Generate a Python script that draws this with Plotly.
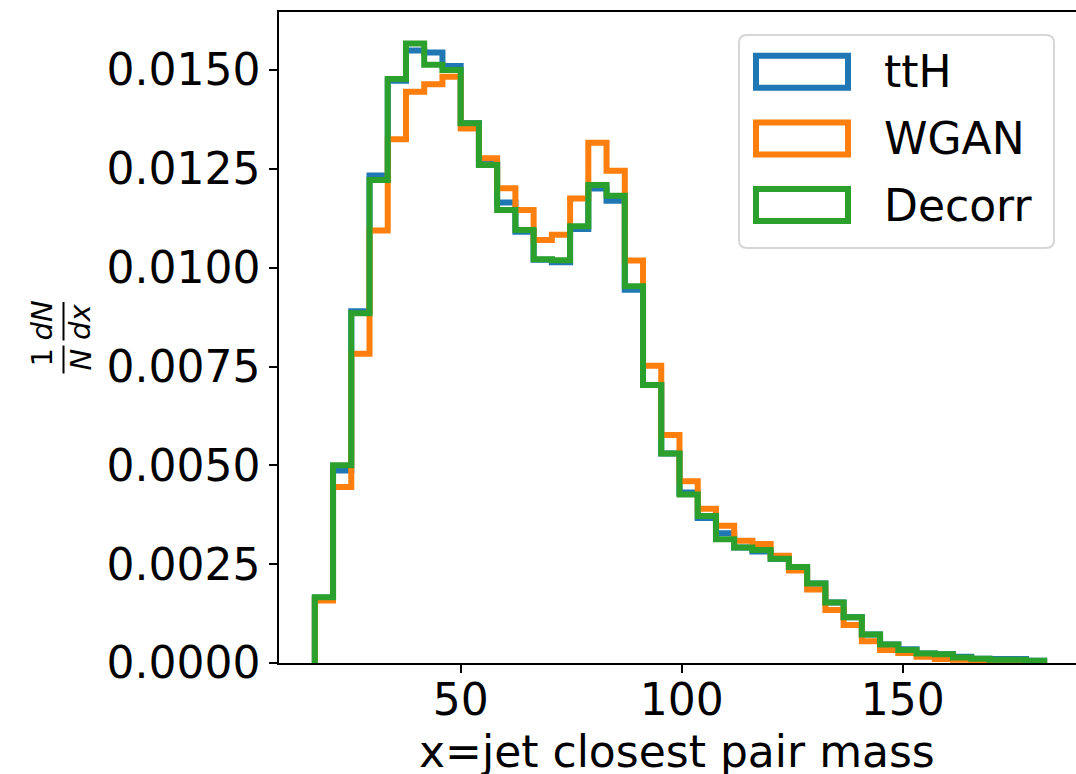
import numpy as np
import plotly.graph_objects as go

# Binning of the closest-pair mass histogram
BIN_LO, BIN_HI, N_BINS = 17.0, 182.0, 40

series_names = ["ttH", "WGAN", "Decorr"]
series_colors = ["#1f77b4", "#ff7f0e", "#2ca02c"]

# Normalised densities (1/N dN/dx) per bin
tth = [0.00165, 0.00487, 0.00890, 0.01233, 0.01473, 0.01549, 0.01544, 0.01510,
       0.01365, 0.01262, 0.01165, 0.01091, 0.01020, 0.01014, 0.01098, 0.01200,
       0.01169, 0.00944, 0.00703, 0.00530, 0.00431, 0.00367, 0.00328, 0.00292,
       0.00282, 0.00264, 0.00243, 0.00201, 0.00153, 0.00116, 0.00072, 0.00047,
       0.00035, 0.00024, 0.00022, 0.00016, 0.00011, 0.00010, 0.00010, 0.00006]
wgan = [0.00158, 0.00445, 0.00782, 0.01094, 0.01325, 0.01445, 0.01464, 0.01483,
        0.01352, 0.01277, 0.01201, 0.01146, 0.01070, 0.01083, 0.01175, 0.01316,
        0.01245, 0.01018, 0.00752, 0.00577, 0.00460, 0.00390, 0.00347, 0.00309,
        0.00301, 0.00271, 0.00234, 0.00186, 0.00134, 0.00096, 0.00055, 0.00033,
        0.00025, 0.00016, 0.00010, 0.00008, 0.00006, 0.00004, 0.00003, 0.00002]
decorr = [0.00166, 0.00500, 0.00885, 0.01222, 0.01477, 0.01567, 0.01513, 0.01500,
          0.01365, 0.01260, 0.01146, 0.01095, 0.01021, 0.01019, 0.01105, 0.01209,
          0.01182, 0.00953, 0.00703, 0.00530, 0.00426, 0.00372, 0.00313, 0.00292,
          0.00286, 0.00264, 0.00243, 0.00201, 0.00153, 0.00116, 0.00072, 0.00047,
          0.00033, 0.00024, 0.00022, 0.00014, 0.00011, 0.00008, 0.00008, 0.00006]

y_ticks = [0.0, 0.0025, 0.005, 0.0075, 0.01, 0.0125, 0.015]
x_ticks = [50, 100, 150]

X_RANGE = [8.9, 189.2]
Y_RANGE = [0.0, 0.016467]

FONT = "DejaVu Sans"
FIG_W, FIG_H = 1076, 774
M_L, M_R, M_T, M_B = 279, 0, 12, 111
PLOT_W = FIG_W - M_L - M_R
PLOT_H = FIG_H - M_T - M_B


def px_x(p):
    """Pixel column -> paper x."""
    return (p - M_L) / PLOT_W


def px_y(p):
    """Pixel row -> paper y."""
    return (FIG_H - M_B - p) / PLOT_H


edges = np.linspace(BIN_LO, BIN_HI, N_BINS + 1)

fig = go.Figure()
for name, color, vals in zip(series_names, series_colors, [tth, wgan, decorr]):
    # step outline: rise at the first edge, fall at the last edge
    xs = np.concatenate([[edges[0]], edges])
    ys = np.concatenate([[0.0], vals, [0.0]])
    fig.add_trace(go.Scatter(
        x=xs, y=ys, mode="lines", name=name,
        line=dict(color=color, width=6, shape="hv"),
        showlegend=False, hoverinfo="skip",
    ))

shapes = []
annotations = []

# legend frame with rounded corners
lx0, lx1, ly0, ly1, r = 739, 1054, 35, 248, 8
path = (f"M {px_x(lx0 + r)},{px_y(ly0)} L {px_x(lx1 - r)},{px_y(ly0)} "
        f"Q {px_x(lx1)},{px_y(ly0)} {px_x(lx1)},{px_y(ly0 + r)} "
        f"L {px_x(lx1)},{px_y(ly1 - r)} "
        f"Q {px_x(lx1)},{px_y(ly1)} {px_x(lx1 - r)},{px_y(ly1)} "
        f"L {px_x(lx0 + r)},{px_y(ly1)} "
        f"Q {px_x(lx0)},{px_y(ly1)} {px_x(lx0)},{px_y(ly1 - r)} "
        f"L {px_x(lx0)},{px_y(ly0 + r)} "
        f"Q {px_x(lx0)},{px_y(ly0)} {px_x(lx0 + r)},{px_y(ly0)} Z")
shapes.append(dict(type="path", xref="paper", yref="paper", path=path,
                   line=dict(color="#d6d6d6", width=2),
                   fillcolor="rgba(255,255,255,0.8)", layer="above"))

for i, (name, color) in enumerate(zip(series_names, series_colors)):
    cy = 71.7 + i * 66.7
    shapes.append(dict(type="rect", xref="paper", yref="paper",
                       x0=px_x(756), x1=px_x(848),
                       y0=px_y(cy - 16), y1=px_y(cy + 16),
                       line=dict(color=color, width=6),
                       fillcolor="rgba(0,0,0,0)", layer="above"))
    annotations.append(dict(xref="paper", yref="paper", x=px_x(882), y=px_y(cy),
                            xanchor="left", yanchor="middle", text=name,
                            showarrow=False, font=dict(family=FONT, size=44, color="black")))

# y-axis label: (1/N)(dN/dx), rotated
frac_parts = [("1", 41.5, 358), ("<i>dN</i>", 41.5, 321),
              ("<i>N</i>", 80, 359.5), ("<i>dx</i>", 80, 322)]
for txt, cx, cy in frac_parts:
    annotations.append(dict(xref="paper", yref="paper", x=px_x(cx), y=px_y(cy),
                            xanchor="center", yanchor="middle", text=txt,
                            textangle=-90, showarrow=False,
                            font=dict(family=FONT, size=29, color="black")))
for y0, y1 in [(345.5, 373.5), (302, 340.5)]:
    shapes.append(dict(type="line", xref="paper", yref="paper",
                       x0=px_x(63.5), x1=px_x(63.5), y0=px_y(y0), y1=px_y(y1),
                       line=dict(color="black", width=2)))

# x-axis label
annotations.append(dict(xref="paper", yref="paper", x=px_x(677), y=px_y(751),
                        xanchor="center", yanchor="middle",
                        text="x=jet closest pair mass", showarrow=False,
                        font=dict(family=FONT, size=44, color="black")))

fig.update_layout(
    width=FIG_W, height=FIG_H,
    margin=dict(l=M_L, r=M_R, t=M_T, b=M_B, autoexpand=False),
    paper_bgcolor="white", plot_bgcolor="white",
    font=dict(family=FONT, size=44, color="black"),
    shapes=shapes, annotations=annotations,
    xaxis=dict(range=X_RANGE, tickvals=x_ticks, ticktext=[str(v) for v in x_ticks],
               showgrid=False, zeroline=False, showline=True, mirror=True,
               linecolor="black", linewidth=1.6, ticks="outside", ticklen=8,
               tickwidth=1.6, tickcolor="black", automargin=False,
               ticklabelstandoff=-11,
               tickfont=dict(family=FONT, size=44, color="black")),
    yaxis=dict(range=Y_RANGE, tickvals=y_ticks,
               ticktext=[f"{v:.4f}" for v in y_ticks],
               showgrid=False, zeroline=False, showline=True, mirror=False,
               linecolor="black", linewidth=1.6, ticks="outside", ticklen=8,
               tickwidth=1.6, tickcolor="black", automargin=False,
               tickfont=dict(family=FONT, size=44, color="black")),
)

fig.write_html("out.html")
